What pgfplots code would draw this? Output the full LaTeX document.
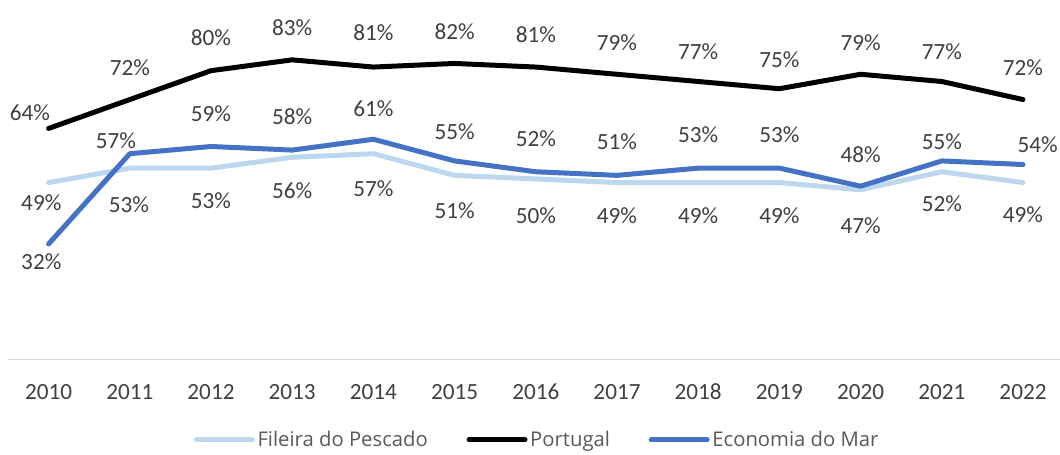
\documentclass[border=0pt]{standalone}
\usepackage{fontspec}
\setmainfont{Carlito}
\newfontfamily\legendfont{Open Sans}
\usepackage{pgfplots}
\usepackage{pgfplotstable}
\pgfplotsset{compat=1.18}
\definecolor{lightblue}{HTML}{BDD7EE}
\definecolor{midblue}{HTML}{4472C4}
\definecolor{labelgray}{HTML}{404040}
\definecolor{legendgray}{HTML}{595959}
\definecolor{axisgray}{HTML}{D9D9D9}

\pgfplotstableread{
x y
0 49
1 53
2 53
3 56
4 57
5 51
6 50
7 49
8 49
9 49
10 47
11 52
12 49
}\fileira
\pgfplotstableread{
x y
0 64
1 72
2 80
3 83
4 81
5 82
6 81
7 79
8 77
9 75
10 79
11 77
12 72
}\portugal
\pgfplotstableread{
x y
0 32
1 57
2 59
3 58
4 61
5 55
6 52
7 51
8 53
9 53
10 48
11 55
12 54
}\economia

\pgfplotstableread{
lx ly v
-0.09 43.4 49
0.99 42.8 53
2.0 43.9 53
3.0 46.7 56
4.0 47.2 57
5.0 41.1 51
6.0 39.8 50
7.0 39.8 49
8.0 39.8 49
9.0 39.8 49
10.0 37.0 47
11.0 43.1 52
12.0 40.0 49
}\fileiralab
\pgfplotstableread{
lx ly v
-0.23 68.3 64
1.0 80.7 72
2.0 89.1 80
3.0 91.8 83
4.0 90.4 81
5.0 90.7 82
6.0 89.9 81
7.0 87.7 79
8.0 85.2 77
9.0 83.0 75
10.0 87.7 79
11.0 85.2 77
12.0 80.7 72
}\portugallab
\pgfplotstableread{
lx ly v
-0.09 27.0 32
0.83 60.5 57
2.0 68.0 59
3.0 67.2 58
4.0 69.4 61
5.0 63.0 55
6.0 61.1 52
7.0 60.3 51
8.0 62.2 53
9.0 62.2 53
10.0 56.7 48
11.0 60.3 55
12.18 59.4 54
}\economialab

\begin{document}
\begin{tikzpicture}
\path[use as bounding box] (-6pt,-70.9pt) rectangle (789pt,269.6pt);
\begin{axis}[
  scale only axis,
  width=791.7pt, height=270.75pt,
  xmin=-0.5, xmax=12.5,
  ymin=0, ymax=100,
  clip=false,
  /pgf/number format/assume math mode=true,
  axis x line=bottom,
  axis y line=none,
  x axis line style={-, draw=axisgray, line width=0.75pt},
  xtick={0,...,12},
  xticklabels={2010,2011,2012,2013,2014,2015,2016,2017,2018,2019,2020,2021,2022},
  ytick=\empty,
  major tick length=0pt,
  xticklabel style={anchor=center, yshift=-24.4pt, font=\fontsize{17.4}{20}\selectfont, text=labelgray},
  every axis plot/.append style={line width=3.75pt, line join=round, line cap=round},
  legend columns=3,
  legend style={at={(0.5016,-0.223)}, anchor=center, draw=none, fill=none,
    font=\legendfont\fontsize{15.2}{18}\selectfont, text=legendgray,
    /tikz/every even column/.append style={column sep=27pt},
    /tikz/every odd column/.append style={column sep=0pt},
    inner sep=0pt},
  legend image code/.code={\draw[#1, line cap=round] (0pt,0pt) -- (42pt,0pt);},
  nodes near coords style={anchor=center, font=\fontsize{17.4}{20}\selectfont, text=labelgray},
]
\addplot[color=lightblue] table[x=x,y=y]{\fileira};
\addlegendentry{Fileira do Pescado}
\addplot[color=black] table[x=x,y=y]{\portugal};
\addlegendentry{Portugal}
\addplot[color=midblue] table[x=x,y=y]{\economia};
\addlegendentry{Economia do Mar}

\addplot[draw=none, mark=none, forget plot, point meta=explicit,
  nodes near coords={\pgfmathprintnumber{\pgfplotspointmeta}\%}]
  table[x=lx,y=ly,meta=v]{\fileiralab};
\addplot[draw=none, mark=none, forget plot, point meta=explicit,
  nodes near coords={\pgfmathprintnumber{\pgfplotspointmeta}\%}]
  table[x=lx,y=ly,meta=v]{\portugallab};
\addplot[draw=none, mark=none, forget plot, point meta=explicit,
  nodes near coords={\pgfmathprintnumber{\pgfplotspointmeta}\%}]
  table[x=lx,y=ly,meta=v]{\economialab};
\end{axis}
\end{tikzpicture}
\end{document}
